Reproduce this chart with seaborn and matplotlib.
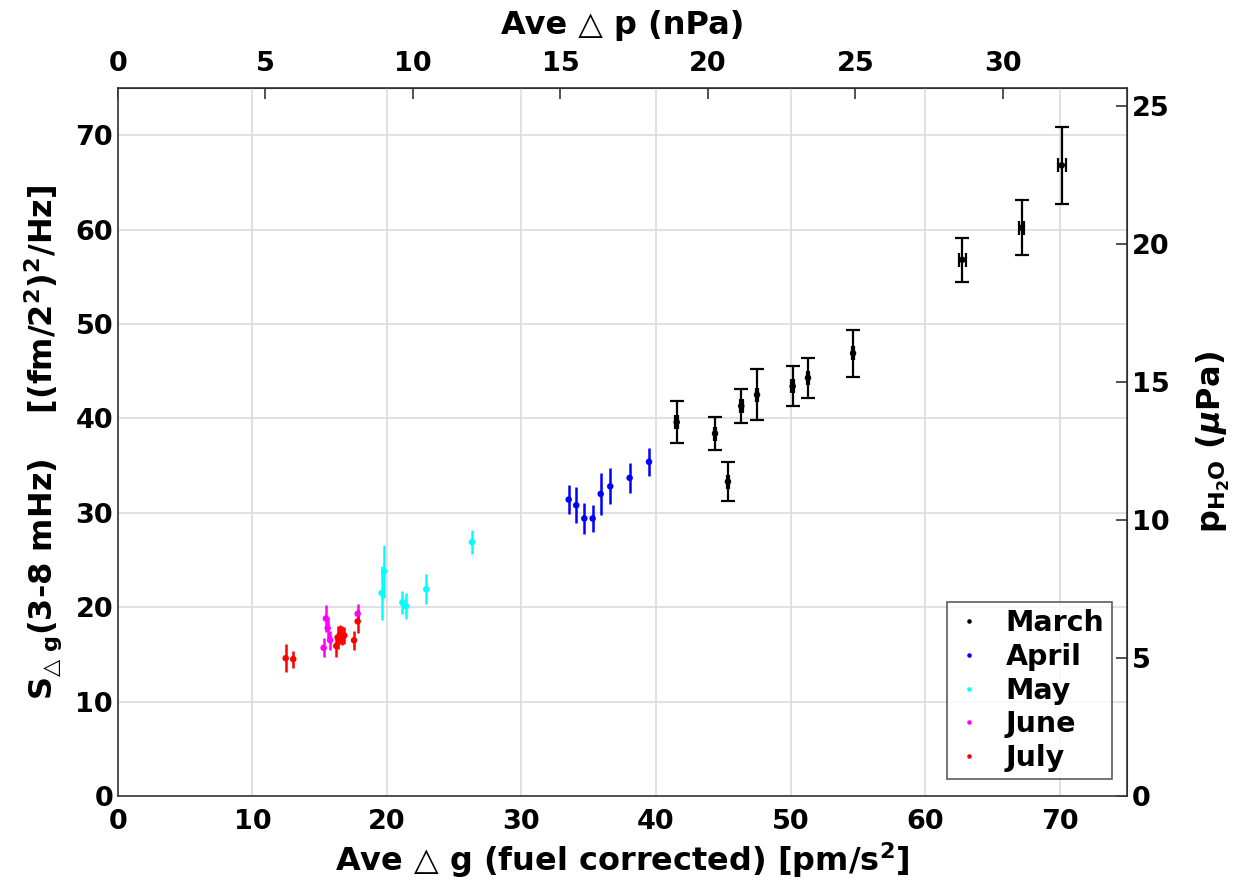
import numpy as np
import pandas as pd
import matplotlib
matplotlib.use("Agg")
import matplotlib.pyplot as plt
import seaborn as sns

# ===== DATA =====
months = ["March", "April", "May", "June", "July"]
colors = ["black", "blue", "cyan", "magenta", "red"]

march_x = [41.54, 44.39, 45.35, 46.34, 47.51, 50.16, 51.30, 54.65, 62.77, 67.19, 70.16]
march_y = [39.6, 38.4, 33.3, 41.3, 42.5, 43.4, 44.3, 46.9, 56.8, 60.2, 66.8]
march_yerr = [2.2, 1.8, 2.1, 1.8, 2.7, 2.1, 2.15, 2.5, 2.35, 2.9, 4.1]
march_xerr = [0.1, 0.1, 0.1, 0.1, 0.1, 0.1, 0.1, 0.1, 0.25, 0.2, 0.3]

april_x = [33.51, 34.07, 34.67, 35.29, 35.89, 36.60, 38.04, 39.48]
april_y = [31.4, 30.8, 29.4, 29.4, 32.0, 32.8, 33.7, 35.4]
april_yerr = [1.5, 1.9, 1.6, 1.4, 2.2, 1.9, 1.6, 1.5]

may_x = [19.60, 19.78, 21.14, 21.43, 22.92, 26.32]
may_y = [21.5, 23.8, 20.5, 20.1, 21.9, 26.9]
may_yerr = [2.9, 2.8, 1.2, 1.4, 1.6, 1.3]

june_x = [15.29, 15.46, 15.59, 15.78, 17.82]
june_y = [15.7, 18.8, 17.8, 16.5, 19.3]
june_yerr = [1.0, 1.4, 1.2, 1.0, 1.0]

july_x = [12.47, 13.03, 16.23, 16.33, 16.51, 16.68, 16.83, 17.55, 17.82]
july_y = [14.6, 14.5, 15.9, 16.8, 17.1, 17.0, 17.0, 16.5, 18.5]
july_yerr = [1.5, 0.9, 1.2, 1.2, 1.0, 1.0, 0.9, 1.0, 1.2]

g_to_p = 0.456      # top axis scale (nPa per pm/s^2)
s_to_p = 0.3422     # right axis scale

xs = [march_x, april_x, may_x, june_x, july_x]
ys = [march_y, april_y, may_y, june_y, july_y]
yerrs = [march_yerr, april_yerr, may_yerr, june_yerr, july_yerr]

df = pd.concat([
    pd.DataFrame({"g": x, "S": y, "err": e, "month": m})
    for x, y, e, m in zip(xs, ys, yerrs, months)
], ignore_index=True)

# ===== STYLE =====
sns.set_style("white")
plt.rcParams["font.family"] = ["DejaVu Sans"]
plt.rcParams["font.weight"] = "bold"
plt.rcParams["mathtext.default"] = "bf"
for k in ["text.color", "axes.labelcolor", "xtick.color", "ytick.color"]:
    plt.rcParams[k] = "black"
tfs = 19.5   # tick labels
lfs = 23     # axis labels
spc = "#333333"

fig = plt.figure(figsize=(12.34, 8.84), dpi=100)
ax = fig.add_axes([0.0956, 0.0995, 0.8175, 0.801])

# ===== ERRORBARS =====
for m, c, x, y, e in zip(months, colors, xs, ys, yerrs):
    if m == "March":
        ax.errorbar(x, y, yerr=e, xerr=march_xerr, fmt="none", ecolor=c,
                    elinewidth=1.6, capsize=5, capthick=1.6, zorder=2)
    else:
        ax.errorbar(x, y, yerr=e, fmt="none", ecolor=c, elinewidth=1.8, zorder=2)

sns.scatterplot(data=df, x="g", y="S", hue="month", hue_order=months,
                palette=colors, s=22, edgecolor="none", ax=ax, zorder=3)

ax.set_xlim(0, 75)
ax.set_ylim(0, 75)
ax.set_xticks(np.arange(0, 71, 10))
ax.set_yticks(np.arange(0, 71, 10))
ax.grid(True, color="#dcdcdc", linewidth=1.2)
ax.set_axisbelow(True)
ax.tick_params(direction="in", length=8, width=1.2, labelsize=tfs, color=spc)
ax.tick_params(axis="x", pad=9)
for lab in ax.get_xticklabels() + ax.get_yticklabels():
    lab.set_fontweight("bold")
for sp in ax.spines.values():
    sp.set_color(spc)
    sp.set_linewidth(1.2)

ax.set_xlabel("Ave △ g (fuel corrected) [pm/s$^2$]", fontsize=lfs, fontweight="bold", labelpad=4)
ax.set_ylabel("S$_{△\\ g}$(3-8 mHz)    [(fm/2$^2$)$^2$/Hz]", fontsize=lfs, fontweight="bold", labelpad=8)

# ===== TWIN AXES =====
top = ax.secondary_xaxis("top", functions=(lambda v: v * g_to_p, lambda v: v / g_to_p))
top.set_xticks(np.arange(0, 31, 5))
top.tick_params(direction="in", length=8, width=1.2, labelsize=tfs, color=spc, pad=8)
top.set_xlabel("Ave △ p (nPa)", fontsize=lfs, fontweight="bold", labelpad=12)
for lab in top.get_xticklabels():
    lab.set_fontweight("bold")

right = ax.secondary_yaxis("right", functions=(lambda v: v * s_to_p, lambda v: v / s_to_p))
right.set_yticks(np.arange(0, 26, 5))
right.tick_params(direction="in", length=8, width=1.2, labelsize=tfs, color=spc)
right.set_ylabel("p$_{H_2O}$ ($\\mathit{\\mu}$Pa)", fontsize=lfs, fontweight="bold", labelpad=18)
for lab in right.get_yticklabels():
    lab.set_fontweight("bold")

# ===== LEGEND =====
handles, labels = ax.get_legend_handles_labels()
leg = ax.legend(handles, labels, loc="lower right", bbox_to_anchor=(0.985, 0.024),
                prop={"size": 20.5, "weight": "bold"}, frameon=True, fancybox=False,
                handletextpad=0.8, labelspacing=0.2, borderpad=0.25,
                handlelength=1.0, borderaxespad=0, markerscale=0.7)
leg.get_frame().set_edgecolor(spc)
leg.get_frame().set_linewidth(1.2)

fig.savefig("out.png", dpi=100)
